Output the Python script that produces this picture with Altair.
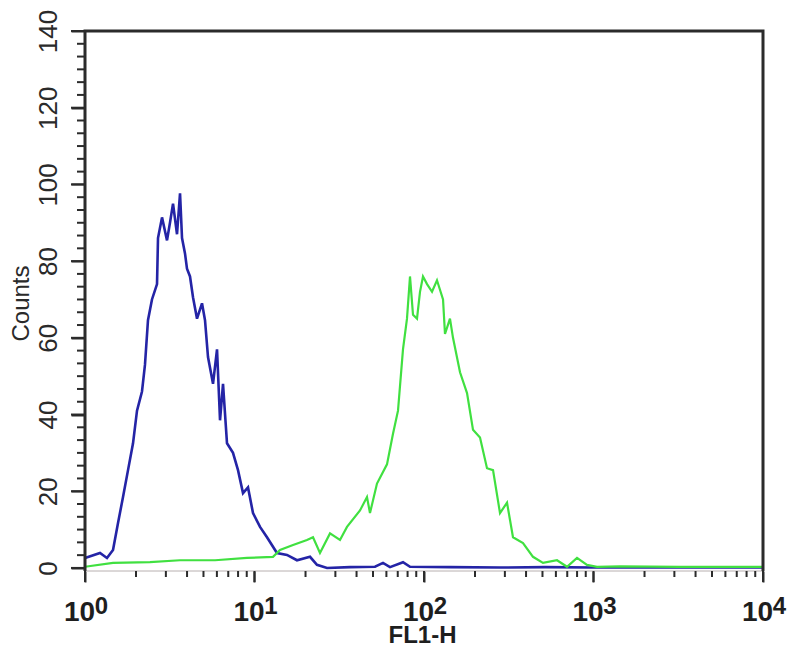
import altair as alt
import pandas as pd

# ---- data ----
blue_fl1 = [1.00, 1.226, 1.348, 1.463, 1.566, 1.676, 1.794, 1.920, 2.027, 2.169,
            2.259, 2.353, 2.484, 2.660, 2.696, 2.847, 3.047, 3.172, 3.306, 3.490,
            3.636, 3.736, 3.890, 3.997, 4.164, 4.337, 4.580, 4.901, 5.105, 5.317,
            5.692, 6.010, 6.260, 6.520, 6.883, 7.467, 7.993, 8.555, 9.156, 9.799,
            10.78, 11.85, 13.57, 15.55, 17.81, 21.26, 23.37, 26.78, 36.6, 51.4,
            57.3, 63.0, 75.2, 82.7, 142.3, 280.8, 517.5, 1000.0, 10000.0]
blue_counts = [2.6, 3.9, 2.6, 4.7, 11.7, 18.5, 25.5, 32.5, 41, 46,
               53, 64.6, 70, 74, 86, 91.4, 85.4, 90, 95, 87,
               97.7, 86, 82, 78, 76, 70.6, 65, 69, 64.6, 55,
               48, 57, 38.5, 48, 32.5, 30, 25.5, 19.5, 21, 14.3,
               10.7, 8, 3.9, 3.4, 2.0, 2.9, 0.8, 0, 0.2, 0.3,
               1.3, 0.2, 1.5, 0.3, 0.2, 0.1, 0.2, 0.1, 0.1]

green_fl1 = [1.00, 1.463, 2.418, 3.636, 5.85, 9.03, 12.86, 14.14, 16.88, 20.40,
             22.14, 24.34, 27.89, 31.94, 35.13, 41.92, 46.09, 48.01, 52.80, 60.48,
             65.63, 70.25, 75.17, 79.37, 82.68, 86.12, 90.93, 94.71, 98.65, 104.2,
             111.5, 119.3, 129.5, 133.0, 142.3, 148.3, 163.1, 179.4, 194.6, 214.0,
             235.3, 255.4, 280.8, 308.9, 335.0, 383.8, 439.6, 503.6, 609.2, 697.9,
             799.4, 915.7, 1048.6, 1433.0, 3239.0, 10000.0]
green_counts = [0.3, 1.3, 1.5, 2.0, 2.0, 2.6, 2.9, 4.7, 6.0, 7.3,
                8, 3.9, 9, 7.3, 10.7, 15, 18.5, 14.3, 22, 27,
                35, 41, 57, 65, 76, 66, 65, 72, 76, 74,
                72, 75, 70, 61, 65, 60, 51, 45.6, 36, 34,
                26, 25.5, 14.3, 17, 8, 6.5, 2.9, 1.3, 2.0, 0.3,
                2.6, 0.8, 0.3, 0.4, 0.3, 0.3]

x_major = [1, 10, 100, 1000, 10000]
x_minor = [m * d for d in [1, 10, 100, 1000] for m in range(2, 10)]
y_major = [0, 20, 40, 60, 80, 100, 120, 140]
y_minor = [round(b + j * 20 / 6, 4) for b in y_major[:-1] for j in range(1, 6)]

blue = pd.DataFrame({"fl1": blue_fl1, "counts": blue_counts})
green = pd.DataFrame({"fl1": green_fl1, "counts": green_counts})

# ---- geometry of the framed region ----
X_LO, X_HI = 1, 10000          # frame limits on x
Y_LO, Y_HI = -0.8, 140         # frame limits on y
PXD = 169.5                    # pixels per decade on x
PXU = 540 / (Y_HI - Y_LO)      # pixels per count on y
PAD_L, PAD_B = 16, 12          # room inside the data rectangle for ticks

W = 678 + PAD_L
H = 540 + PAD_B
FONT = "Liberation Sans"
NARROW = "Liberation Sans Narrow, Liberation Sans, Arial"
DARK = "#2b2b2b"

xscale = alt.Scale(type="log", domain=[10 ** (-PAD_L / PXD), X_HI], nice=False)
yscale = alt.Scale(domain=[Y_LO - PAD_B / PXU, Y_HI], nice=False, zero=False)

EXP = "round(log(datum.value)/LN10)"

# ---- axes: labels and titles only ----
x_main = alt.Axis(values=x_major, labelExpr="'10'", offset=-PAD_B,
                  ticks=True, tickSize=11, tickWidth=2, tickColor=DARK,
                  domain=False,
                  labelFont=FONT, labelFontSize=28, labelFontWeight="bold",
                  labelColor="#1e1e1e", labelPadding=16, labelOffset=-6,
                  labelOverlap=False, labelFlush=False, grid=False,
                  title="FL1-H", titleFont=FONT, titleFontSize=24,
                  titleFontWeight="bold", titleColor="#1e1e1e",
                  titleX=337 + PAD_L, titleY=64, titleAlign="center",
                  titleBaseline="middle", orient="bottom")
y_main = alt.Axis(values=y_major, offset=-PAD_L,
                  ticks=True, tickSize=14, tickWidth=2, tickColor=DARK,
                  domain=False,
                  labelFont=NARROW, labelFontSize=26, labelColor="#2a2a2a",
                  labelAngle=270, labelAlign="center", labelBaseline="bottom",
                  labelPadding=10, labelOverlap=False, labelFlush=False,
                  grid=False, title="Counts", titleFont=FONT,
                  titleFontSize=24, titleFontWeight="normal",
                  titleColor="#2a2a2a", titleAngle=270, titleAlign="center",
                  titleBaseline="middle", titleX=-64, titleY=272,
                  orient="left")
x_exp = alt.Axis(values=x_major, labelExpr=f"format({EXP}, 'd')", ticks=False,
                 domain=False, offset=-PAD_B, labelFont=FONT, labelFontSize=24,
                 labelFontWeight="bold", labelColor="#1e1e1e",
                 labelPadding=23, labelOffset=16, labelOverlap=False,
                 labelFlush=False, grid=False, title=None, orient="bottom")

blue_layer = alt.Chart(blue).mark_line(color="#2424a6", strokeWidth=2.6).encode(
    x=alt.X("fl1:Q", scale=xscale, axis=x_main),
    y=alt.Y("counts:Q", scale=yscale, axis=y_main),
)
green_layer = alt.Chart(green).mark_line(color="#40e040", strokeWidth=2.2).encode(
    x=alt.X("fl1:Q", scale=xscale, axis=x_exp),
    y=alt.Y("counts:Q", scale=yscale, axis=None),
)

# ---- frame and tick marks, drawn as line paths through the scales ----
frame = pd.DataFrame({"x": [X_LO, X_LO, X_HI, X_HI],
                      "y": [Y_LO, Y_HI, Y_HI, Y_LO],
                      "k": [0, 1, 2, 3]})
bottom = pd.DataFrame({"x": [X_LO, X_HI], "y": [Y_LO, Y_LO], "k": [0, 1]})

rows = []
for i, v in enumerate(y_major):
    x0 = 10 ** (-14 / PXD)
    rows += [("ym%d" % i, x0, v, 0), ("ym%d" % i, X_LO, v, 1)]
for i, v in enumerate(y_minor):
    x0 = 10 ** (-8 / PXD)
    rows += [("yn%d" % i, x0, v, 0), ("yn%d" % i, X_LO, v, 1)]
for i, v in enumerate(x_major):
    rows += [("xm%d" % i, v, Y_LO, 0), ("xm%d" % i, v, Y_LO - 11 / PXU, 1)]
for i, v in enumerate(x_minor):
    rows += [("xn%d" % i, v, Y_LO, 0), ("xn%d" % i, v, Y_LO - 6 / PXU, 1)]
ticks = pd.DataFrame(rows, columns=["id", "x", "y", "k"])

def path_layer(df, color, width, detail=None):
    enc = dict(
        x=alt.X("x:Q", scale=xscale, axis=None),
        y=alt.Y("y:Q", scale=yscale, axis=None),
        order=alt.Order("k:Q"),
    )
    if detail:
        enc["detail"] = alt.Detail(f"{detail}:N")
    return alt.Chart(df).mark_line(color=color, strokeWidth=width).encode(**enc)

bottom_layer = path_layer(bottom, "#b8b0b0", 1)
tick_layer = path_layer(ticks, DARK, 2, detail="id")
frame_layer = path_layer(frame, DARK, 3)

chart = alt.layer(
    bottom_layer, tick_layer, blue_layer, green_layer, frame_layer,
).resolve_axis(
    x="independent", y="independent"
).properties(
    width=W, height=H,
    autosize=alt.AutoSizeParams(type="none"),
    padding={"left": 77 - PAD_L, "top": 23, "right": 29, "bottom": 77 - PAD_B},
    background="white",
).configure_view(stroke=None)

chart.save("out.html", embed_options={"renderer": "svg", "actions": False})
